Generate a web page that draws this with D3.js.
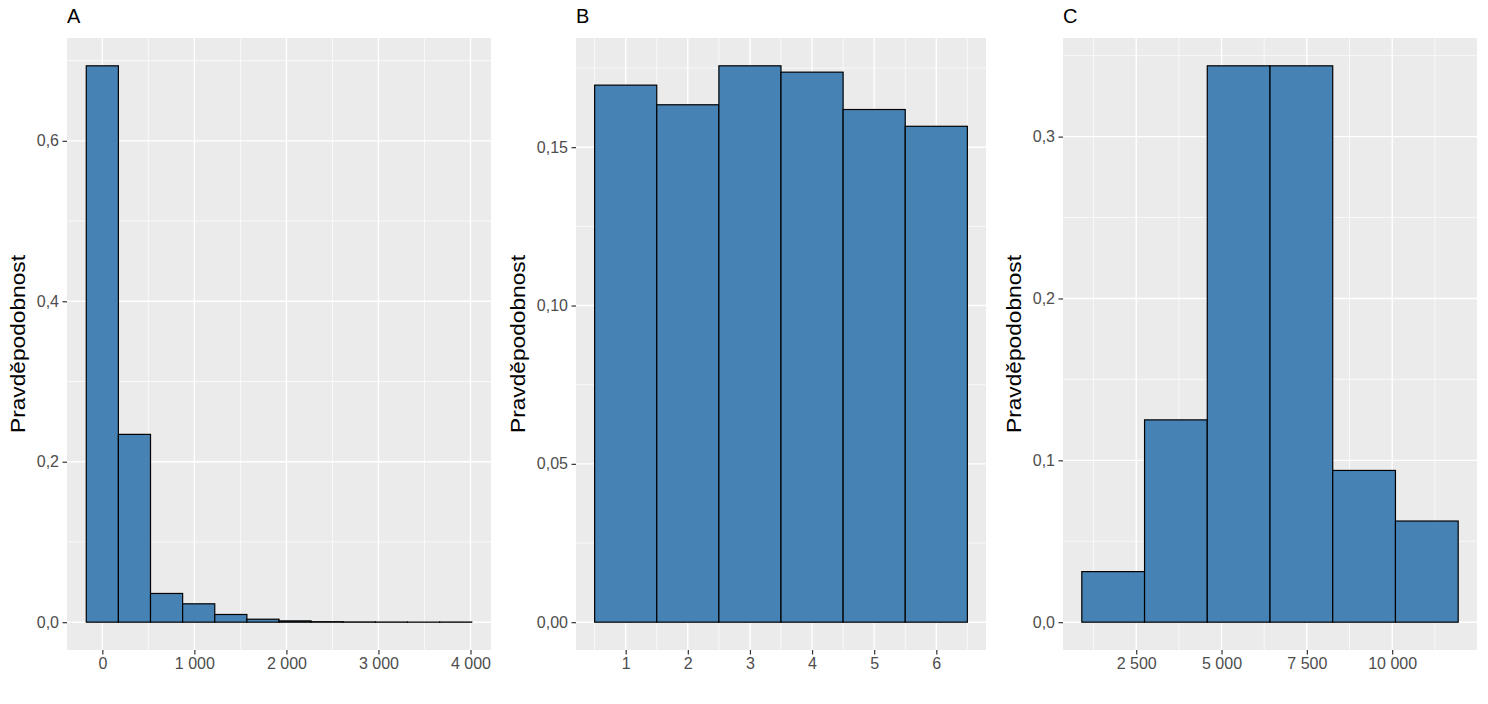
<!DOCTYPE html>
<html>
<head>
<meta charset="utf-8">
<script src="https://cdnjs.cloudflare.com/ajax/libs/d3/7.8.5/d3.min.js"></script>
<style>
  body { margin: 0; background: #fff; }
  svg { display: block; font-family: "Liberation Sans", Arial, sans-serif; }
</style>
</head>
<body>
<div id="chart"></div>
<script>
"use strict";

// == DATA ==
// panel A: histogram, bin edges + probability per bin
var edgesA = [-174.5, 174.5, 523.5, 872.5, 1221.5, 1570.5, 1919.5, 2268.5, 2617.5, 2966.5, 3315.5, 3664.5, 4013.5];
var probA = [0.6935, 0.2341, 0.0358, 0.0229, 0.0096, 0.0037, 0.0016, 0.0006, 0.0003, 0.0002, 0.0001, 0.0002];
var xTicksA = [0, 1000, 2000, 3000, 4000];
var xMinorA = [500, 1500, 2500, 3500];
var yTicksA = [0, 0.2, 0.4, 0.6];
var yMinorA = [0.1, 0.3, 0.5, 0.7];

// panel B: die faces 1..6
var facesB = [1, 2, 3, 4, 5, 6];
var probB = [0.1696, 0.1634, 0.1757, 0.1737, 0.1619, 0.1566];
var xTicksB = [1, 2, 3, 4, 5, 6];
var xMinorB = [0.5, 1.5, 2.5, 3.5, 4.5, 5.5, 6.5];
var yTicksB = [0, 0.05, 0.10, 0.15];
var yMinorB = [0.025, 0.075, 0.125, 0.175];

// panel C: histogram
var edgesC = [906, 2744, 4582, 6420, 8258, 10096, 11934];
var probC = [0.03125, 0.125, 0.34375, 0.34375, 0.09375, 0.0625];
var xTicksC = [2500, 5000, 7500, 10000];
var xMinorC = [1250, 3750, 6250, 8750, 11250];
var yTicksC = [0, 0.1, 0.2, 0.3];
var yMinorC = [0.05, 0.15, 0.25, 0.35];

var yTitle = "Pravděpodobnost";

// == BOILERPLATE ==
var W = 1488, H = 704;
var plotTop = 38, plotBottom = 650;

var svg = d3.select("#chart")
  .append("svg")
  .attr("width", W)
  .attr("height", H);

var cz = d3.formatLocale({ decimal: ",", thousands: " ", grouping: [3], currency: ["", ""] });

// histogram bins for each panel
var binsA = probA.map(function (p, i) { return { x0: edgesA[i], x1: edgesA[i + 1], p: p }; });
var binsB = probB.map(function (p, i) { return { x0: facesB[i] - 0.5, x1: facesB[i] + 0.5, p: p }; });
var binsC = probC.map(function (p, i) { return { x0: edgesC[i], x1: edgesC[i + 1], p: p }; });

var panels = [
  { label: "A", left: 67, right: 491, bins: binsA, xt: xTicksA, xm: xMinorA, yt: yTicksA, ym: yMinorA,
    xf: cz.format(",d"), yf: cz.format(".1f"), titleX: 25 },
  { label: "B", left: 576, right: 986, bins: binsB, xt: xTicksB, xm: xMinorB, yt: yTicksB, ym: yMinorB,
    xf: cz.format("d"), yf: cz.format(".2f"), titleX: 525 },
  { label: "C", left: 1063, right: 1477, bins: binsC, xt: xTicksC, xm: xMinorC, yt: yTicksC, ym: yMinorC,
    xf: cz.format(",d"), yf: cz.format(".1f"), titleX: 1021 }
];

// ggplot-like 5% expansion
function expand(lo, hi) {
  var d = (hi - lo) * 0.05;
  return [lo - d, hi + d];
}

// == VIZUALIZATION SHAPES ==
panels.forEach(function (pn) {
  var xs = d3.scaleLinear()
    .domain(expand(d3.min(pn.bins, function (d) { return d.x0; }), d3.max(pn.bins, function (d) { return d.x1; })))
    .range([pn.left, pn.right]);
  var ys = d3.scaleLinear()
    .domain(expand(0, d3.max(pn.bins, function (d) { return d.p; })))
    .range([plotBottom, plotTop]);

  var g = svg.append("g");

  g.append("rect")
    .attr("x", pn.left).attr("y", plotTop)
    .attr("width", pn.right - pn.left).attr("height", plotBottom - plotTop)
    .attr("fill", "#EBEBEB");

  // grid
  g.selectAll(".vminor").data(pn.xm).enter().append("line")
    .attr("x1", xs).attr("x2", xs).attr("y1", plotTop).attr("y2", plotBottom)
    .attr("stroke", "#fff").attr("stroke-width", 0.7);
  g.selectAll(".hminor").data(pn.ym).enter().append("line")
    .attr("y1", ys).attr("y2", ys).attr("x1", pn.left).attr("x2", pn.right)
    .attr("stroke", "#fff").attr("stroke-width", 0.7);
  g.selectAll(".vmajor").data(pn.xt).enter().append("line")
    .attr("x1", xs).attr("x2", xs).attr("y1", plotTop).attr("y2", plotBottom)
    .attr("stroke", "#fff").attr("stroke-width", 1.4);
  g.selectAll(".hmajor").data(pn.yt).enter().append("line")
    .attr("y1", ys).attr("y2", ys).attr("x1", pn.left).attr("x2", pn.right)
    .attr("stroke", "#fff").attr("stroke-width", 1.4);

  // bars
  g.selectAll(".bar").data(pn.bins).enter().append("rect")
    .attr("x", function (d) { return xs(d.x0); })
    .attr("width", function (d) { return xs(d.x1) - xs(d.x0); })
    .attr("y", function (d) { return ys(d.p); })
    .attr("height", function (d) { return ys(0) - ys(d.p); })
    .attr("fill", "#4682B4")
    .attr("stroke", "#000")
    .attr("stroke-width", 1.2);

  // axes
  var xa = g.append("g")
    .attr("transform", "translate(0," + plotBottom + ")")
    .call(d3.axisBottom(xs).tickValues(pn.xt).tickFormat(pn.xf).tickSize(4.5).tickPadding(3.5));
  var ya = g.append("g")
    .attr("transform", "translate(" + pn.left + ",0)")
    .call(d3.axisLeft(ys).tickValues(pn.yt).tickFormat(pn.yf).tickSize(4.5).tickPadding(3.5));

  [xa, ya].forEach(function (a) {
    a.select(".domain").remove();
    a.selectAll(".tick line").attr("stroke", "#333").attr("stroke-width", 1.2);
    a.selectAll(".tick text")
      .attr("fill", "#4D4D4D")
      .style("font-size", "16px")
      .style("font-family", "'Liberation Sans', Arial, sans-serif");
  });

  // y title (the reference glyphs are a bit wider than Liberation Sans)
  svg.append("text")
    .attr("transform", "translate(" + pn.titleX + "," + ((plotTop + plotBottom) / 2) + ") rotate(-90)")
    .attr("text-anchor", "middle")
    .attr("textLength", 178)
    .attr("lengthAdjust", "spacingAndGlyphs")
    .style("font-size", "19.5px")
    .attr("fill", "#000")
    .text(yTitle);

  // panel letter
  svg.append("text")
    .attr("x", pn.left)
    .attr("y", 23)
    .style("font-size", "20px")
    .attr("fill", "#000")
    .text(pn.label);
});
</script>
</body>
</html>
